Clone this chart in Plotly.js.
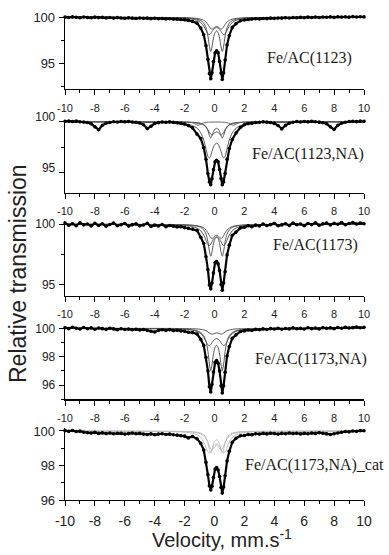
<!DOCTYPE html>
<html><head><meta charset="utf-8">
<script src="https://cdn.plot.ly/plotly-3.0.1.min.js"></script>
<style>html,body{margin:0;padding:0;background:#fff}#chart{width:389px;height:555px}</style>
</head><body><div id="chart"></div>
<script>
// ---------- data ----------
const velocity = [-10,-9.75,-9.5,-9.25,-9,-8.75,-8.5,-8.25,-8,-7.75,-7.5,-7.25,-7,-6.75,-6.5,-6.25,-6,-5.75,-5.5,-5.25,-5,-4.75,-4.5,-4.25,-4,-3.75,-3.5,-3.25,-3,-2.75,-2.5,-2.25,-2,-1.75,
  -1.47,-1.17,-0.92,-0.72,-0.57,-0.44,-0.34,-0.25,-0.17,-0.07,0.04,0.14,0.24,0.34,0.44,0.52,0.61,0.71,0.84,0.99,1.19,1.44,1.74,
  2,2.25,2.5,2.75,3,3.25,3.5,3.75,4,4.25,4.5,4.75,5,5.25,5.5,5.75,6,6.25,6.5,6.75,7,7.25,7.5,7.75,8,8.25,8.5,8.75,9,9.25,9.5,9.75,10];

const spec1123 = [100.02,99.97,100.04,99.99,99.95,100.03,99.98,99.94,100.01,99.96,99.99,99.93,99.97,99.91,99.96,99.92,99.89,99.94,99.9,99.86,99.92,99.88,99.9,99.85,99.89,99.84,99.87,99.82,99.84,99.8,99.8,99.76,99.74,99.66,
  99.55,99.36,98.82,98.1,96.9,95.43,93.88,93.32,93.95,95.2,96.15,96.35,96.16,95.21,93.94,93.25,93.97,95.35,96.99,98.02,98.9,99.3,99.62,
  99.7,99.76,99.8,99.84,99.82,99.87,99.85,99.9,99.88,99.92,99.9,99.95,99.92,99.97,99.94,99.99,99.95,100.01,99.97,100.02,99.98,100.03,100.0,100.04,99.99,100.05,100.02,100.06,100.01,100.07,100.03,100.06,100.04];

const spec1123NA = [100.05,100.08,100.02,100.06,100.0,99.98,99.92,99.8,99.5,99.22,99.65,99.85,99.93,100.0,99.97,100.02,99.99,100.03,99.97,99.95,99.87,99.7,99.33,99.56,99.83,99.91,99.98,99.95,99.99,99.94,99.9,99.86,99.77,99.62,
  99.4,98.79,98.36,97.45,96.32,94.92,94.1,93.83,94.42,95.3,96.08,96.22,96.07,95.31,94.43,93.82,94.09,94.92,96.33,97.38,98.27,98.9,99.45,
  99.7,99.82,99.86,99.92,99.95,100.0,99.96,99.93,99.84,99.63,99.3,99.64,99.86,99.95,100.02,99.98,100.03,99.99,100.04,100.0,99.96,99.9,99.8,99.5,99.24,99.66,99.86,99.95,100.02,100.05,100.01,100.06,100.04];

const spec1173 = [100.1,99.92,100.05,99.88,100.12,99.95,100.02,99.86,100.08,99.9,100.04,99.84,99.98,100.1,99.88,99.96,100.06,99.85,99.97,100.03,99.87,99.94,100.08,99.82,99.93,99.86,99.98,99.8,99.9,99.83,99.78,99.8,99.72,99.66,
  99.6,99.48,98.92,98.4,97.3,96.22,94.95,94.62,95.1,95.95,96.82,96.9,96.7,96.14,94.98,94.5,95.12,96.05,97.45,98.26,99.08,99.35,99.7,
  99.75,99.88,99.8,99.93,99.86,100.02,99.9,99.97,100.08,99.88,99.95,100.05,99.9,100.1,99.96,100.02,99.88,100.07,99.97,100.12,99.92,100.04,100.1,99.95,100.08,100.0,100.14,99.96,100.06,100.15,100.02,100.1,100.05];

const spec1173NA = [100.05,99.98,100.08,100.0,99.95,100.06,99.97,100.03,99.94,100.02,99.98,99.93,100.01,99.96,99.9,99.97,99.92,99.95,99.9,99.94,99.88,99.92,99.85,99.8,99.74,99.86,99.9,99.86,99.91,99.84,99.87,99.82,99.8,99.72,
  99.7,99.6,99.22,98.8,97.95,97.0,95.88,95.52,96.04,96.92,97.6,97.74,97.55,97.0,95.95,95.45,95.96,96.9,98.05,98.72,99.3,99.54,99.78,
  99.82,99.88,99.85,99.93,99.9,99.96,99.92,99.98,99.95,100.01,99.94,99.99,99.96,100.03,99.97,100.0,99.95,100.04,99.98,100.02,99.96,100.05,100.0,100.03,99.98,100.06,100.01,100.08,100.02,100.05,100.1,100.04,100.07];

const spec1173NAcat = [100.02,99.98,100.03,99.97,99.99,99.93,99.9,99.88,99.92,99.86,99.89,99.85,99.88,99.84,99.87,99.86,99.82,99.85,99.88,99.84,99.86,99.82,99.8,99.83,99.78,99.82,99.84,99.8,99.82,99.78,99.76,99.72,99.7,99.6,
  99.68,99.55,99.28,98.9,98.18,97.47,96.82,96.58,96.8,97.3,97.8,97.88,97.74,97.36,96.72,96.4,96.75,97.4,98.26,98.82,99.35,99.58,99.72,
  99.74,99.8,99.78,99.84,99.82,99.86,99.83,99.87,99.85,99.82,99.86,99.84,99.88,99.85,99.87,99.83,99.86,99.84,99.88,99.86,99.9,99.87,99.83,99.8,99.84,99.88,99.93,99.97,99.95,100.0,99.98,100.02,100.01];

// fitted sub-spectra (doublets)
const fitVelocity = [-10,-2.47,-1.87,-1.47,-1.17,-0.92,-0.72,-0.57,-0.44,-0.34,-0.25,-0.17,-0.07,0.04,0.14,0.24,0.34,0.44,0.52,0.61,0.71,0.84,0.99,1.19,1.44,1.74,2.14,2.74,10];

const fit1123A = [100,99.95,99.92,99.87,99.79,99.64,99.36,98.88,97.97,96.85,96.28,96.76,97.75,98.34,98.51,98.34,97.75,96.76,96.28,96.85,97.97,98.88,99.36,99.64,99.79,99.87,99.92,99.95,100];
const fit1123B = [100,99.97,99.95,99.92,99.87,99.79,99.66,99.48,99.22,98.96,98.77,98.71,98.81,98.95,99.0,98.95,98.81,98.71,98.77,98.96,99.22,99.48,99.66,99.79,99.87,99.92,99.95,99.97,100];
const fit1123C = [100,99.93,99.88,99.8,99.67,99.43,99.04,98.59,98.2,98.12,98.24,98.44,98.68,98.83,98.88,98.83,98.68,98.44,98.24,98.12,98.2,98.59,99.04,99.43,99.67,99.8,99.88,99.93,100];

const fit1123NA_A = [100,99.98,99.97,99.95,99.91,99.85,99.73,99.52,99.13,98.65,98.41,98.61,99.03,99.29,99.36,99.29,99.03,98.61,98.41,98.65,99.13,99.52,99.73,99.85,99.91,99.95,99.97,99.98,100];
const fit1123NA_B = [100,99.97,99.95,99.92,99.87,99.79,99.66,99.48,99.22,98.96,98.77,98.71,98.81,98.95,99.0,98.95,98.81,98.71,98.77,98.96,99.22,99.48,99.66,99.79,99.87,99.92,99.95,99.97,100];
const fit1123NA_C = [100,99.87,99.77,99.62,99.37,98.92,98.2,97.34,96.61,96.45,96.68,97.07,97.51,97.8,97.89,97.8,97.51,97.07,96.68,96.45,96.61,97.34,98.2,98.92,99.37,99.62,99.77,99.87,100];

// magnetic sextet sub-spectrum of Fe/AC(1123,NA)
const sextetVelocity = [-10,-8.4,-8.1,-7.95,-7.8,-7.65,-7.5,-7.2,-5.05,-4.75,-4.6,-4.45,-4.3,-4.15,-3.85,-1.7,-1.4,-1.25,-1.1,-0.95,-0.8,-0.5,0.65,0.95,1.1,1.25,1.4,1.55,1.85,3.9,4.2,4.35,4.5,4.65,4.8,5.1,7.35,7.65,7.8,7.95,8.1,8.25,8.55,10];
const sextet1123NA = [100,99.88,99.67,99.41,99.2,99.41,99.67,99.88,99.9,99.71,99.49,99.3,99.49,99.71,99.9,99.95,99.86,99.74,99.65,99.74,99.86,99.95,99.95,99.86,99.74,99.65,99.74,99.86,99.95,99.9,99.71,99.49,99.3,99.49,99.71,99.9,99.88,99.67,99.41,99.2,99.41,99.67,99.88,100];

const fit1173A = [100,99.97,99.94,99.91,99.85,99.74,99.54,99.2,98.55,97.75,97.34,97.68,98.39,98.81,98.94,98.81,98.39,97.68,97.34,97.75,98.55,99.2,99.54,99.74,99.85,99.91,99.94,99.97,100];
const fit1173B = [100,99.97,99.95,99.92,99.88,99.81,99.69,99.52,99.29,99.06,98.88,98.82,98.91,99.04,99.09,99.04,98.91,98.82,98.88,99.06,99.29,99.52,99.69,99.81,99.88,99.92,99.95,99.97,100];
const fit1173C = [100,99.94,99.89,99.81,99.68,99.46,99.1,98.67,98.31,98.23,98.34,98.54,98.76,98.9,98.95,98.9,98.76,98.54,98.34,98.23,98.31,98.67,99.1,99.46,99.68,99.81,99.89,99.94,100];

const fit1173NA_A = [100,99.96,99.94,99.9,99.83,99.71,99.49,99.1,98.37,97.48,97.02,97.41,98.2,98.67,98.81,98.67,98.2,97.41,97.02,97.48,98.37,99.1,99.49,99.71,99.83,99.9,99.94,99.96,100];
const fit1173NA_B = [100,99.99,99.98,99.97,99.96,99.93,99.89,99.83,99.75,99.67,99.61,99.59,99.62,99.66,99.68,99.66,99.62,99.59,99.61,99.67,99.75,99.83,99.89,99.93,99.96,99.97,99.98,99.99,100];
const fit1173NA_C = [100,99.96,99.92,99.87,99.78,99.63,99.38,99.08,98.84,98.78,98.86,98.99,99.15,99.24,99.28,99.24,99.15,98.99,98.86,98.78,98.84,99.08,99.38,99.63,99.78,99.87,99.92,99.96,100];

const fitCatA = [100,99.98,99.97,99.96,99.93,99.88,99.78,99.62,99.3,98.92,98.72,98.89,99.23,99.43,99.49,99.43,99.23,98.89,98.72,98.92,99.3,99.62,99.78,99.88,99.93,99.96,99.97,99.98,100];
const fitCatB = [100,99.97,99.96,99.93,99.89,99.82,99.71,99.56,99.34,99.12,98.96,98.91,98.99,99.11,99.16,99.11,98.99,98.91,98.96,99.12,99.34,99.56,99.71,99.82,99.89,99.93,99.96,99.97,100];
const fitCatC = [100,99.95,99.92,99.86,99.78,99.62,99.36,99.05,98.79,98.74,98.82,98.96,99.11,99.22,99.25,99.22,99.11,98.96,98.82,98.74,98.79,99.05,99.36,99.62,99.78,99.86,99.92,99.95,100];

const sampleLabels = ['Fe/AC(1123)','Fe/AC(1123,NA)','Fe/AC(1173)','Fe/AC(1173,NA)','Fe/AC(1173,NA)_cat'];
const xTickValues = [-10,-8,-6,-4,-2,0,2,4,6,8,10];
const xTickLabels = ['-10','-8','-6','-4','-2','0','2','4','6','8','10'];

// ---------- traces ----------
const panels = [
  {spec: spec1123, fits: [fit1123A, fit1123B, fit1123C], fitColor: '#555'},
  {spec: spec1123NA, fits: [fit1123NA_A, fit1123NA_B, fit1123NA_C], fitColor: '#555', sextet: sextet1123NA},
  {spec: spec1173, fits: [fit1173A, fit1173B, fit1173C], fitColor: '#555'},
  {spec: spec1173NA, fits: [fit1173NA_A, fit1173NA_B, fit1173NA_C], fitColor: '#555'},
  {spec: spec1173NAcat, fits: [fitCatA, fitCatB, fitCatC], fitColor: '#bdbdbd'}
];

const traces = [];
panels.forEach((p, i) => {
  const xa = 'x' + (i === 0 ? '' : i + 1);
  const ya = 'y' + (i === 0 ? '' : i + 1);
  p.fits.forEach(f => traces.push({x: fitVelocity, y: f, xaxis: xa, yaxis: ya, mode: 'lines',
    line: {color: p.fitColor, width: 1, shape: 'spline', smoothing: 0.8}, hoverinfo: 'skip'}));
  if (p.sextet) traces.push({x: sextetVelocity, y: p.sextet, xaxis: xa, yaxis: ya, mode: 'lines',
    line: {color: '#666', width: 1, shape: 'spline', smoothing: 0.8}, hoverinfo: 'skip'});
  traces.push({x: velocity, y: p.spec, xaxis: xa, yaxis: ya, mode: 'lines+markers', cliponaxis: false,
    line: {color: '#000', width: 2.2}, marker: {color: '#000', size: 3.6}});
});

// ---------- layout ----------
const xDomain = [65/389, 364/389];
const yDomains = [[0.8396, 0.9714], [0.6528, 0.7843], [0.4672, 0.6013], [0.2805, 0.4135], [0.0991, 0.2281]];
const yRanges = [[92.21, 100.15], [93.04, 100.2], [94.05, 100.25], [95.0, 100.2], [96.0, 100.15]];
const yDticks = [5, 5, 5, 2, 2];
const yFont = [13, 12, 12, 12, 13];
const xFont = [11, 11, 11, 11, 14];

const layout = {
  width: 389, height: 555, margin: {l: 0, r: 0, t: 0, b: 0},
  paper_bgcolor: '#fff', plot_bgcolor: '#fff', showlegend: false,
  font: {family: 'Liberation Sans, Arial, sans-serif', color: '#222'},
  annotations: []
};
const labelPos = [[309, 58], [308, 154], [315, 245], [311, 359], [314, 465]];
for (let i = 0; i < 5; i++) {
  const s = i === 0 ? '' : String(i + 1);
  layout['xaxis' + s] = {
    domain: xDomain, range: [-10, 10], anchor: 'y' + s, tickmode: 'array', tickvals: xTickValues, ticktext: xTickLabels,
    ticks: 'outside', ticklen: 5, tickwidth: 1, tickcolor: '#000',
    minor: {dtick: 1, tick0: 0, ticks: 'outside', ticklen: 3, tickwidth: 1, tickcolor: '#000'},
    showline: true, linecolor: '#000', linewidth: 1.3, showgrid: false, zeroline: false,
    tickfont: {size: xFont[i], color: '#222'}, ticklabelstandoff: 3
  };
  layout['yaxis' + s] = {
    domain: yDomains[i], range: yRanges[i], anchor: 'x' + s, dtick: yDticks[i], tick0: 0,
    ticks: 'outside', ticklen: 5, tickwidth: 1, tickcolor: '#000',
    minor: {dtick: yDticks[i] / 2, tick0: 0, ticks: 'outside', ticklen: 3, tickwidth: 1, tickcolor: '#000'},
    showline: true, linecolor: '#000', linewidth: 1.3, showgrid: false, zeroline: false,
    tickfont: {size: yFont[i], color: '#222'}, ticklabelstandoff: 1
  };
  layout.annotations.push({text: sampleLabels[i], xref: 'paper', yref: 'paper',
    x: labelPos[i][0] / 389, y: 1 - labelPos[i][1] / 555, xanchor: 'center', yanchor: 'middle', showarrow: false,
    font: {family: 'Liberation Serif, Times New Roman, serif', size: 16, color: '#1a1a1a'}});
}
layout.yaxis2.ticklabelshift = -5;
layout.annotations.push({text: 'Relative transmission', xref: 'paper', yref: 'paper', x: 18/389, y: 1 - 274/555,
  textangle: -90, xanchor: 'center', yanchor: 'middle', showarrow: false, font: {size: 23, color: '#222'}});
layout.annotations.push({text: 'Velocity, mm.s<sup>-1</sup>', xref: 'paper', yref: 'paper', x: 222/389, y: 2/555,
  xanchor: 'center', yanchor: 'bottom', showarrow: false, font: {size: 20, color: '#222'}});

Plotly.newPlot('chart', traces, layout, {staticPlot: true, displayModeBar: false});
</script></body></html>
